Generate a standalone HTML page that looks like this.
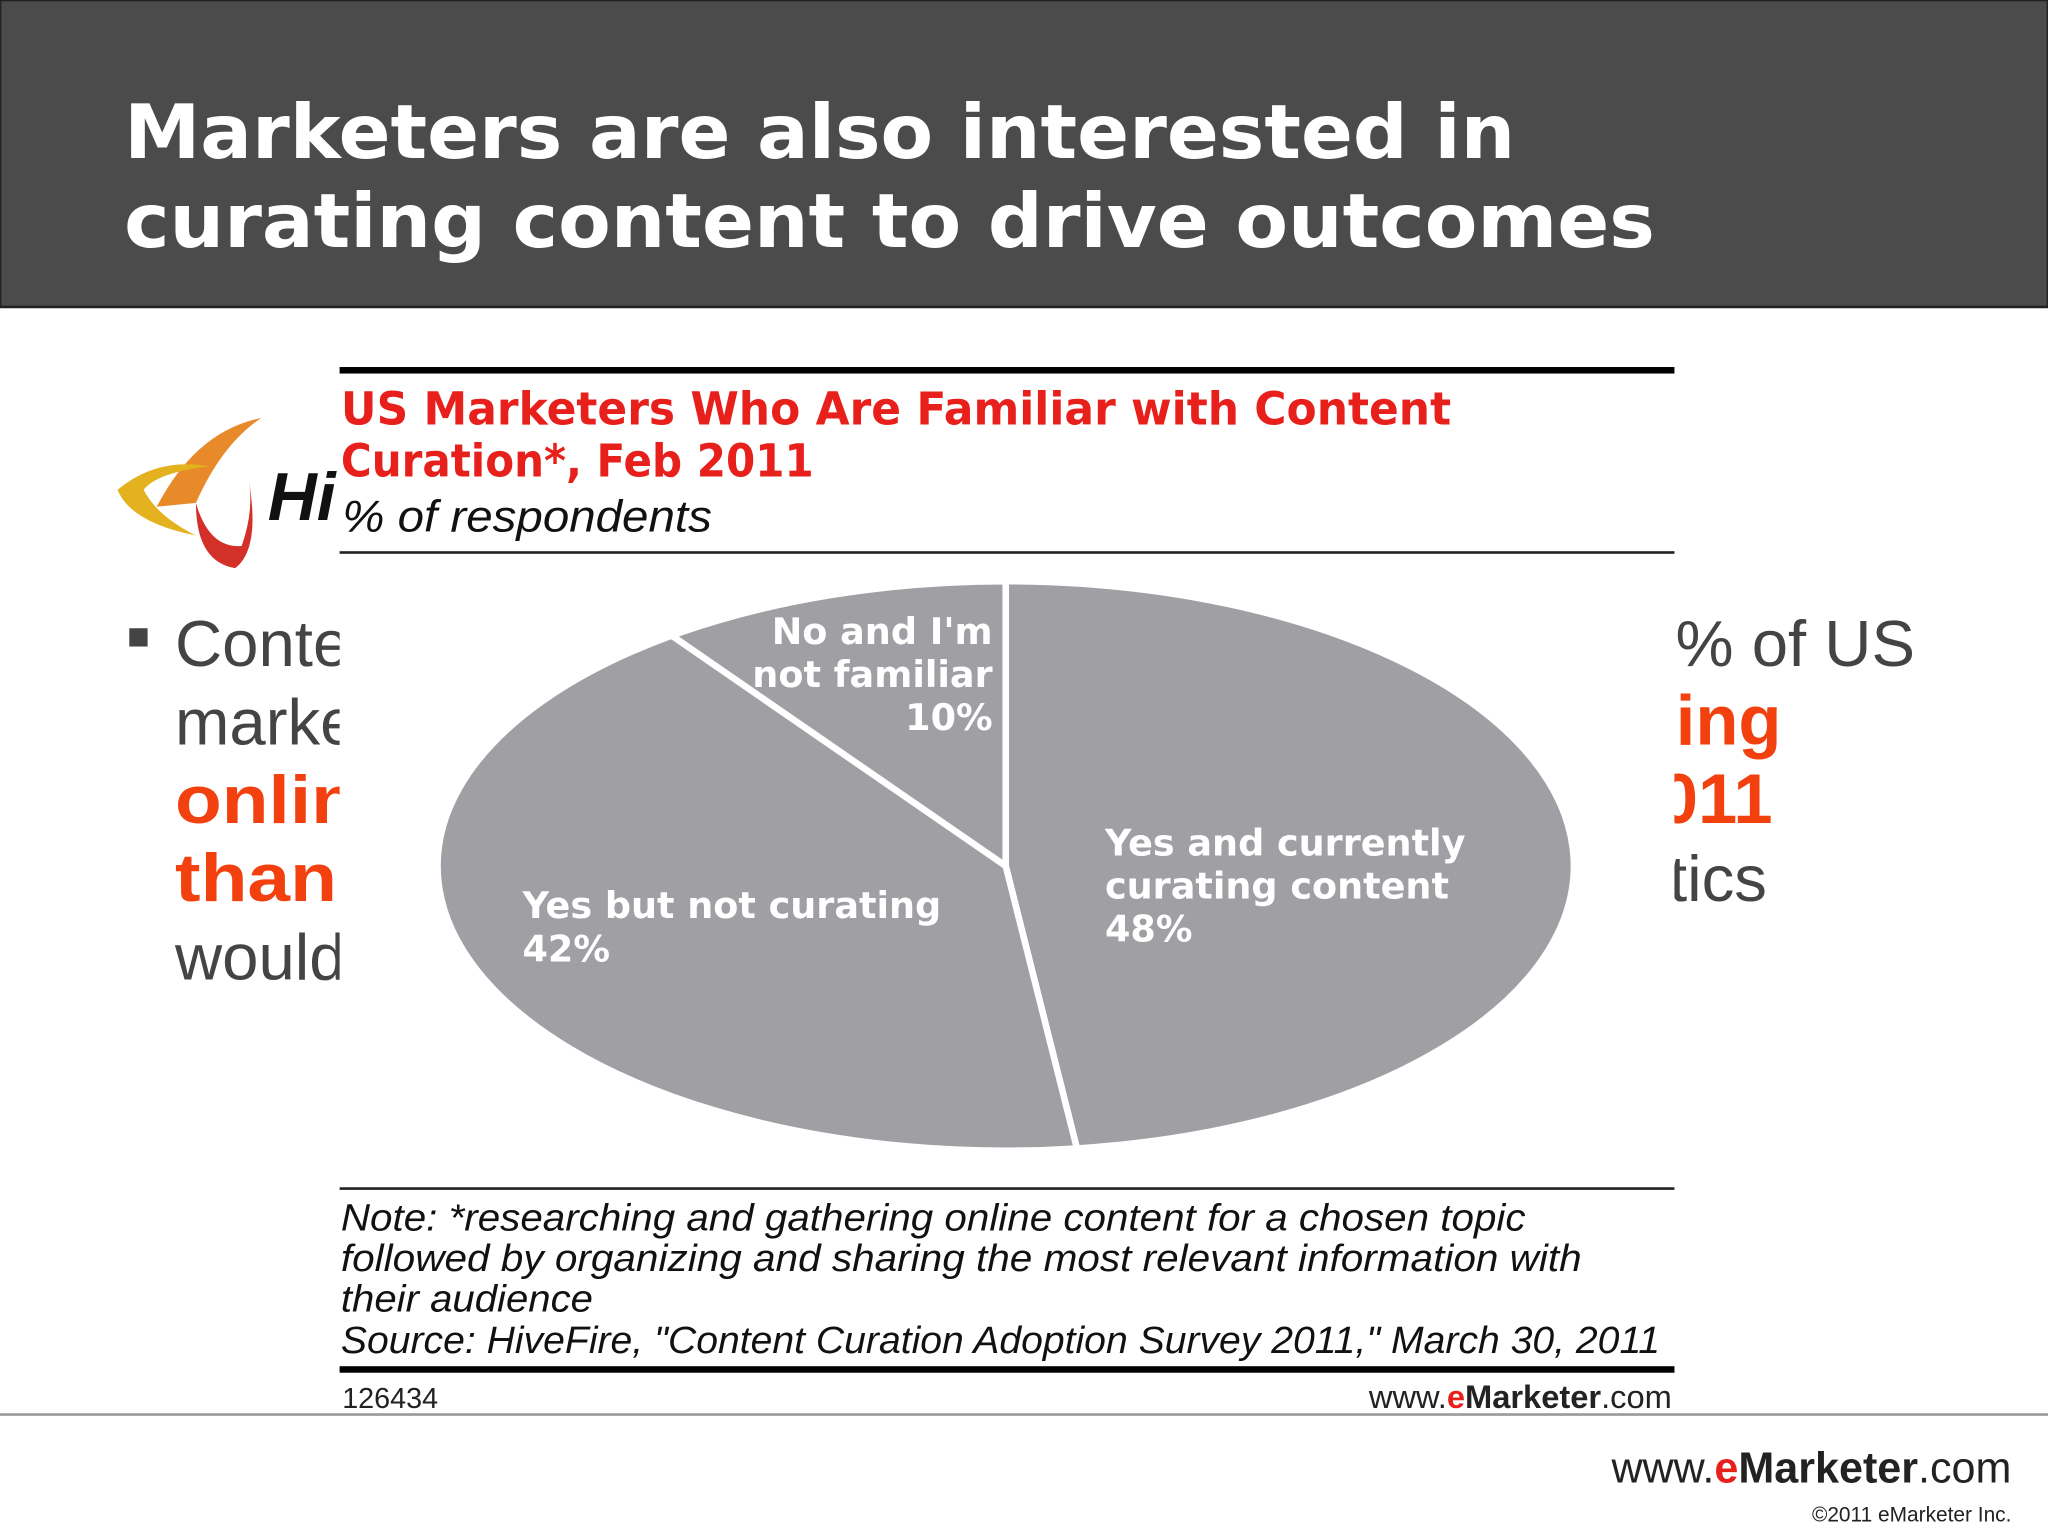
<!DOCTYPE html>
<html><head><meta charset="utf-8"><style>
html,body{margin:0;padding:0;background:#fff;}
svg{display:block;}
</style></head><body>
<svg width="2048" height="1536" viewBox="0 0 1568 1176" xmlns="http://www.w3.org/2000/svg">
<rect x="0" y="0" width="1568" height="235" fill="#4b4b4b" stroke="#222" stroke-width="2"/>
<g font-family="DejaVu Sans, sans-serif" font-weight="bold" font-size="57" fill="#fff">
<text x="95" y="121" textLength="1065" lengthAdjust="spacingAndGlyphs">Marketers are also interested in</text>
<text x="95" y="189" textLength="1172" lengthAdjust="spacingAndGlyphs">curating content to drive outcomes</text>
</g>
<g>
<path d="M120 388 Q150 330 200 320 Q170 340 150 385 Z" fill="#e88a2a"/>
<path d="M90 375 Q120 350 160 357 Q120 362 110 375 Q120 395 150 410 Q100 400 90 375 Z" fill="#e3b21e"/>
<path d="M150 385 Q160 420 185 418 Q195 390 190 365 Q200 420 180 435 Q150 430 150 385 Z" fill="#d4302a"/>
<text x="205" y="398" font-family="Liberation Sans, sans-serif" font-style="italic" font-weight="bold" font-size="52" fill="#111">Hi</text>
</g>
<g font-family="Liberation Sans, sans-serif" font-size="50">
<rect x="99" y="481" width="14" height="14" fill="#444"/>
<text x="134" y="510" fill="#444">Conte</text>
<text x="134" y="570" fill="#444">marke</text>
<text x="134" y="630" fill="#f2400f" font-weight="bold" font-size="52" textLength="140" lengthAdjust="spacingAndGlyphs">onlin</text>
<text x="134" y="690" fill="#f2400f" font-weight="bold" font-size="52" textLength="124" lengthAdjust="spacingAndGlyphs">than</text>
<text x="134" y="750" fill="#444">would</text>
</g>
<g font-family="Liberation Sans, sans-serif" font-size="50">
<text x="1255" y="510" fill="#444">0% of US</text>
<text x="1283" y="570" fill="#f2400f" font-weight="bold" font-size="54">ing</text>
<text x="1240" y="630" fill="#f2400f" font-weight="bold" font-size="54">2011</text>
<text x="1250" y="690" fill="#444">atics</text>
</g>
<rect x="260" y="260" width="1022" height="822" fill="#fff"/>
<rect x="260" y="281" width="1022" height="5" fill="#000"/>
<g font-family="DejaVu Sans, sans-serif" font-weight="bold" font-size="35" fill="#e8201c">
<text x="261" y="325" textLength="850" lengthAdjust="spacingAndGlyphs">US Marketers Who Are Familiar with Content</text>
<text x="261" y="365" textLength="362" lengthAdjust="spacingAndGlyphs">Curation*, Feb 2011</text>
</g>
<text x="262" y="407" font-family="Liberation Sans, sans-serif" font-style="italic" font-size="34" fill="#111" textLength="283" lengthAdjust="spacingAndGlyphs">% of respondents</text>
<rect x="260" y="422" width="1022" height="2" fill="#222"/>
<g id="pie"></g>
<rect x="260" y="909" width="1022" height="2" fill="#222"/>
<g font-family="Liberation Sans, sans-serif" font-style="italic" font-size="29" fill="#111">
<text x="261" y="942" textLength="907" lengthAdjust="spacingAndGlyphs">Note: *researching and gathering online content for a chosen topic</text>
<text x="261" y="973" textLength="950" lengthAdjust="spacingAndGlyphs">followed by organizing and sharing the most relevant information with</text>
<text x="261" y="1004" textLength="193" lengthAdjust="spacingAndGlyphs">their audience</text>
<text x="261" y="1036" textLength="1010" lengthAdjust="spacingAndGlyphs">Source: HiveFire, "Content Curation Adoption Survey 2011," March 30, 2011</text>
</g>
<rect x="260" y="1046" width="1022" height="5" fill="#000"/>
<text x="262" y="1078" font-family="Liberation Sans, sans-serif" font-size="22" fill="#222">126434</text>
<text x="1280" y="1078" text-anchor="end" font-family="Liberation Sans, sans-serif" font-size="25" fill="#222">www.<tspan fill="#e8201c" font-weight="bold">e</tspan><tspan font-weight="bold">Marketer</tspan>.com</text>
<rect x="0" y="1082" width="1568" height="2" fill="#999"/>
<text x="1540" y="1135" text-anchor="end" font-family="Liberation Sans, sans-serif" font-size="33" fill="#222">www.<tspan fill="#e8201c" font-weight="bold">e</tspan><tspan font-weight="bold">Marketer</tspan>.com</text>
<text x="1540" y="1165" text-anchor="end" font-family="Liberation Sans, sans-serif" font-size="16" fill="#222">©2011 eMarketer Inc.</text>
</svg>
<script>
const categories = ["Yes and currently curating content", "Yes but not curating", "No and I'm not familiar"];
const values = [48, 42, 10];
const labelLines = [["Yes and currently","curating content"],["Yes but not curating"],["No and I'm","not familiar"]];
(function(){
  const NS="http://www.w3.org/2000/svg";
  const g=document.getElementById('pie');
  const cx=770, cy=663, rx=435, ry=218;
  const total=values.reduce((a,b)=>a+b,0);
  const pt=(frac)=>{const a=(-90+frac*360)*Math.PI/180;return [cx+rx*Math.cos(a), cy+ry*Math.sin(a)];};
  const labelPos=[[846,655,'start'],[400,703,'start'],[760,493,'end']];
  let acc=0;
  values.forEach((v,i)=>{
    const f0=acc/total, f1=(acc+v)/total; acc+=v;
    const p0=pt(f0), p1=pt(f1);
    const large=(f1-f0)>0.5?1:0;
    const path=document.createElementNS(NS,'path');
    path.setAttribute('d',`M${cx} ${cy} L${p0[0]} ${p0[1]} A${rx} ${ry} 0 ${large} 1 ${p1[0]} ${p1[1]} Z`);
    path.setAttribute('fill','#a09fa3');
    path.setAttribute('stroke','#fff');
    path.setAttribute('stroke-width','5');
    path.setAttribute('stroke-linejoin','round');
    
    
    g.appendChild(path);
  });
  values.forEach((v,i)=>{
    const [x,y,anchor]=labelPos[i];
    const t=document.createElementNS(NS,'text');
    
    
    t.setAttribute('x',x);t.setAttribute('y',y);
    t.setAttribute('text-anchor',anchor);
    t.setAttribute('font-family','DejaVu Sans, sans-serif');
    t.setAttribute('font-weight','bold');
    t.setAttribute('font-size','28');
    t.setAttribute('fill','#fff');
    const lines=labelLines[i].concat([v+'%']);
    lines.forEach((ln,j)=>{
      const s=document.createElementNS(NS,'tspan');
      s.setAttribute('x',x);
      s.setAttribute('dy',j?33:0);
      s.textContent=ln;
      t.appendChild(s);
    });
    g.appendChild(t);
  });
})();
</script>
</body></html>
